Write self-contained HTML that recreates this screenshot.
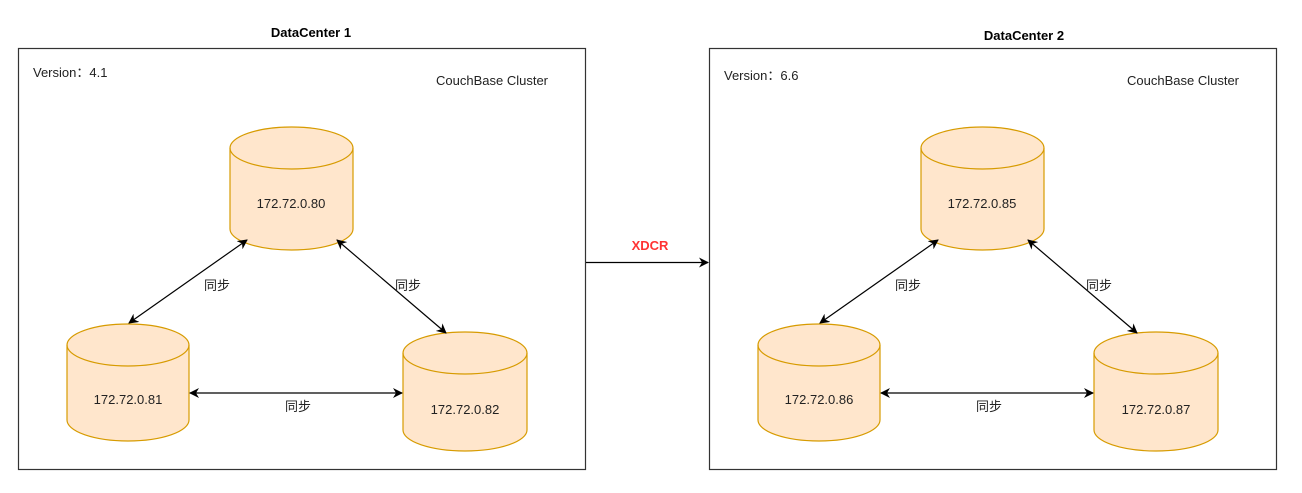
<!DOCTYPE html>
<html><head><meta charset="utf-8"><style>
html,body{margin:0;padding:0;background:#fff;}
svg{display:block;}
text{font-family:"Liberation Sans","Noto Sans CJK SC",sans-serif;}
</style></head><body>
<svg width="1302" height="493" viewBox="0 0 1302 493" xmlns="http://www.w3.org/2000/svg">
<defs>
<marker id="ah" viewBox="0 0 10 10" refX="9" refY="5" markerWidth="10" markerHeight="10" markerUnits="userSpaceOnUse" orient="auto-start-reverse">
<path d="M0,0 L10,5 L0,10 L3,5 z" fill="#000"/>
</marker>
<g id="dc">
<rect x="18.5" y="48.5" width="567" height="421" fill="#fff" stroke="#333" stroke-width="1.2"/>
<text x="33" y="77" font-size="13" fill="#222">Version：4.1</text>
<text x="436" y="85" font-size="13" fill="#222">CouchBase Cluster</text>
</g>
<g id="cyls">
<!-- top -->
<path d="M230,148 A61.5,21 0 0 1 353,148 L353,229 A61.5,21 0 0 1 230,229 Z" fill="#ffe6cc" stroke="#d79b00" stroke-width="1.2"/>
<path d="M230,148 A61.5,21 0 0 0 353,148" fill="none" stroke="#d79b00" stroke-width="1.2"/>
<!-- left -->
<path d="M67,345 A61,21 0 0 1 189,345 L189,420 A61,21 0 0 1 67,420 Z" fill="#ffe6cc" stroke="#d79b00" stroke-width="1.2"/>
<path d="M67,345 A61,21 0 0 0 189,345" fill="none" stroke="#d79b00" stroke-width="1.2"/>
<!-- right -->
<path d="M403,353 A62,21 0 0 1 527,353 L527,430 A62,21 0 0 1 403,430 Z" fill="#ffe6cc" stroke="#d79b00" stroke-width="1.2"/>
<path d="M403,353 A62,21 0 0 0 527,353" fill="none" stroke="#d79b00" stroke-width="1.2"/>
<line x1="129" y1="323" x2="247" y2="240" stroke="#000" stroke-width="1.2" marker-start="url(#ah)" marker-end="url(#ah)"/>
<line x1="337" y1="240" x2="446" y2="333" stroke="#000" stroke-width="1.2" marker-start="url(#ah)" marker-end="url(#ah)"/>
<line x1="190" y1="393" x2="402" y2="393" stroke="#000" stroke-width="1.2" marker-start="url(#ah)" marker-end="url(#ah)"/>
<text x="217" y="290" font-size="13" fill="#222" text-anchor="middle">同步</text>
<text x="408" y="290" font-size="13" fill="#222" text-anchor="middle">同步</text>
<text x="298" y="411" font-size="13" fill="#222" text-anchor="middle">同步</text>
</g>
</defs>

<text x="311" y="37" font-size="13" font-weight="bold" text-anchor="middle" fill="#000">DataCenter 1</text>
<text x="1024" y="40" font-size="13" font-weight="bold" text-anchor="middle" fill="#000">DataCenter 2</text>

<rect x="18.5" y="48.5" width="567" height="421" fill="#fff" stroke="#333" stroke-width="1.2"/>
<text x="33" y="77" font-size="13" fill="#222">Version：4.1</text>
<text x="436" y="85" font-size="13" fill="#222">CouchBase Cluster</text>
<use href="#cyls"/>
<text x="291" y="208" font-size="13" fill="#222" text-anchor="middle">172.72.0.80</text>
<text x="128" y="404" font-size="13" fill="#222" text-anchor="middle">172.72.0.81</text>
<text x="465" y="414" font-size="13" fill="#222" text-anchor="middle">172.72.0.82</text>

<rect x="709.5" y="48.5" width="567" height="421" fill="#fff" stroke="#333" stroke-width="1.2"/>
<text x="724" y="80" font-size="13" fill="#222">Version：6.6</text>
<text x="1127" y="85" font-size="13" fill="#222">CouchBase Cluster</text>
<use href="#cyls" transform="translate(691,0)"/>
<text x="982" y="208" font-size="13" fill="#222" text-anchor="middle">172.72.0.85</text>
<text x="819" y="404" font-size="13" fill="#222" text-anchor="middle">172.72.0.86</text>
<text x="1156" y="414" font-size="13" fill="#222" text-anchor="middle">172.72.0.87</text>

<line x1="586" y1="262.5" x2="708" y2="262.5" stroke="#000" stroke-width="1.2" marker-end="url(#ah)"/>
<text x="650" y="250" font-size="13" font-weight="bold" fill="#ff3333" text-anchor="middle">XDCR</text>
</svg>
</body></html>
